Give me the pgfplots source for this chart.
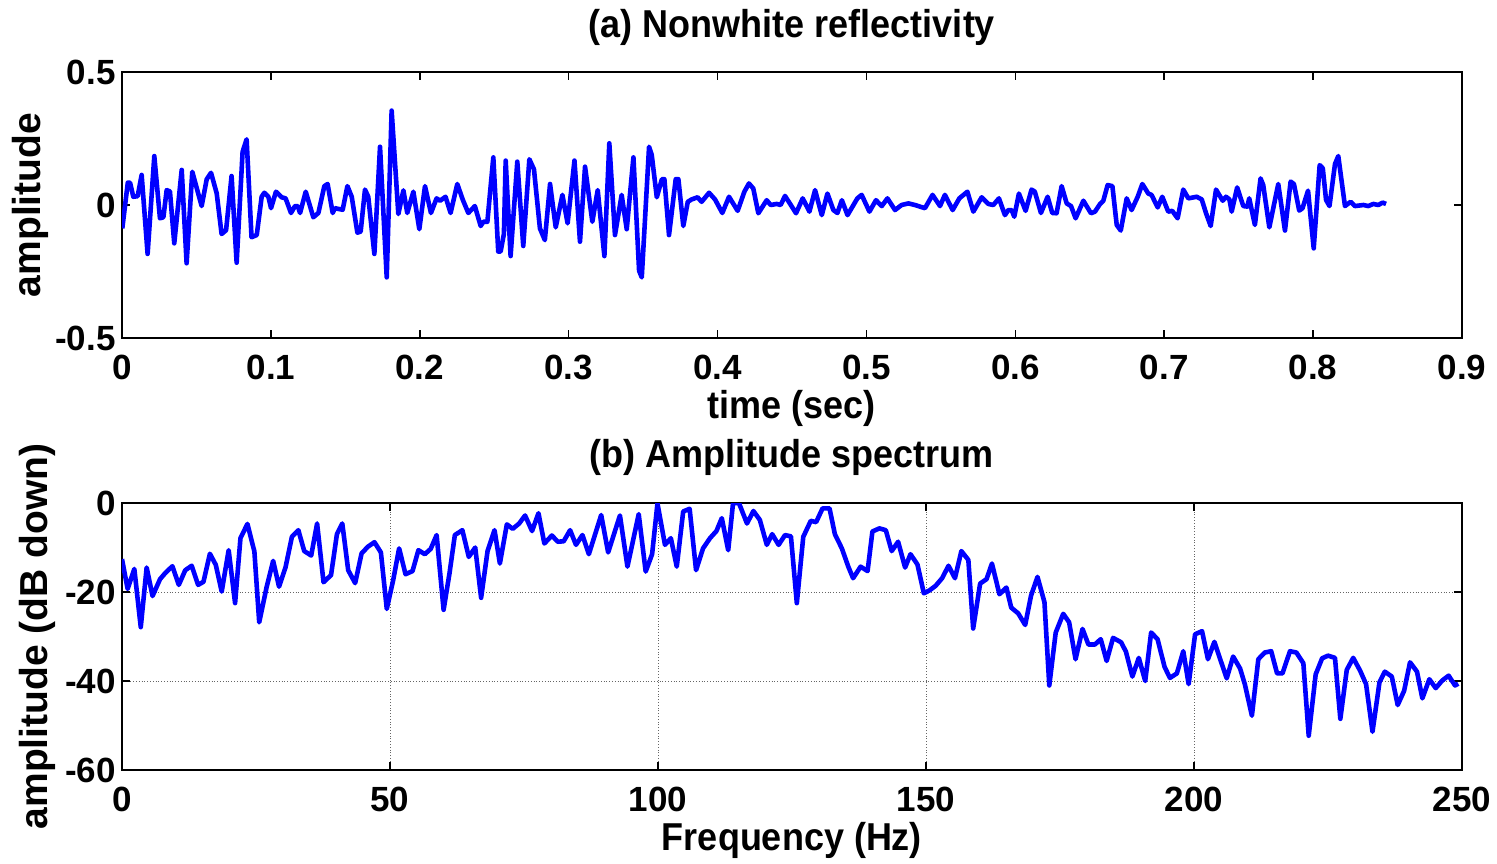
\documentclass[border=0pt]{standalone}
\usepackage{fontspec}
\setmainfont{Liberation Sans}
\usepackage{pgfplots}
\pgfplotsset{compat=1.18}
\newcommand{\lbl}{\bfseries\fontsize{18}{18}\selectfont}
\newcommand{\ylbl}{\bfseries\fontsize{19.5}{19.5}\selectfont}
\newcommand{\tkl}{\bfseries\fontsize{17.5}{17.5}\selectfont}
\pgfplotsset{
  mstyle/.style={
    scale only axis, width=670pt,
    axis line style={line width=1pt},
    tick style={black, line width=0.8pt},
    tick align=inside, major tick length=4pt,
    xticklabel style={font=\tkl, anchor=center, yshift=-14.5pt},
    yticklabel style={font=\tkl, anchor=east, inner sep=0pt, xshift=-3pt},
    every axis x label/.style={at={(axis description cs:0.5,-0.263)},anchor=center,font=\lbl},
    every axis title/.style={at={(axis description cs:0.5,1.169)},anchor=center,font=\lbl},
  }
}
\begin{document}
\begin{tikzpicture}
\useasboundingbox (-61pt,-46.5pt) rectangle (687.5pt,385pt);
% top axis
\begin{axis}[mstyle, at={(0pt,216pt)}, anchor=south west, height=133pt,
  xmin=0, xmax=0.9, ymin=-0.5, ymax=0.5,
  xtick={0,0.1,0.2,0.3,0.4,0.5,0.6,0.7,0.8,0.9},
  xticklabels={0,0.1,0.2,0.3,0.4,0.5,0.6,0.7,0.8,0.9},
  ytick={-0.5,0,0.5}, yticklabels={-0.5,0,0.5},
  title={\scalebox{1}[1.08]{(a) Nonwhite reflectivity}}, xlabel={\scalebox{1}[1.08]{time (sec)}}, ylabel={amplitude},
  every axis y label/.style={at={(axis description cs:-0.0687,0.5)},anchor=center,rotate=90,font=\ylbl},
]
\addplot[color={rgb,255:red,0;green,0;blue,255}, line width=2.3pt, line join=round] coordinates {
(0.0002,-0.088) (0.0039,0.084) (0.0054,0.084) (0.0076,0.031) (0.0105,0.033) (0.0132,0.113)
(0.0172,-0.184) (0.0217,0.184) (0.0255,-0.050) (0.0278,-0.046) (0.0300,0.056) (0.0322,0.051)
(0.0351,-0.144) (0.0401,0.132) (0.0434,-0.219) (0.0472,0.125) (0.0535,-0.004) (0.0569,0.097)
(0.0598,0.121) (0.0636,0.044) (0.0669,-0.109) (0.0699,-0.095) (0.0736,0.109) (0.0770,-0.217)
(0.0810,0.200) (0.0837,0.247) (0.0870,-0.121) (0.0905,-0.113) (0.0938,0.031) (0.0956,0.046)
(0.0983,0.031) (0.1001,-0.012) (0.1034,0.050) (0.1072,0.029) (0.1099,0.025) (0.1135,-0.030)
(0.1162,-0.004) (0.1180,-0.004) (0.1196,-0.030) (0.1234,0.050) (0.1285,-0.046) (0.1319,-0.030)
(0.1359,0.071) (0.1381,0.079) (0.1415,-0.030) (0.1431,-0.012) (0.1482,-0.018) (0.1514,0.071)
(0.1543,0.031) (0.1581,-0.104) (0.1603,-0.100) (0.1632,0.058) (0.1654,0.031) (0.1695,-0.184)
(0.1733,0.219) (0.1778,-0.272) (0.1811,0.355) (0.1856,-0.034) (0.1890,0.055) (0.1916,-0.030)
(0.1957,0.050) (0.1997,-0.091) (0.2035,0.071) (0.2075,-0.030) (0.2113,0.025) (0.2136,0.016)
(0.2173,0.031) (0.2207,-0.030) (0.2252,0.079) (0.2288,0.021) (0.2326,-0.030) (0.2370,-0.004)
(0.2409,-0.079) (0.2427,-0.063) (0.2454,-0.063) (0.2494,0.179) (0.2527,-0.175) (0.2543,-0.175)
(0.2565,-0.109) (0.2577,0.167) (0.2610,-0.192) (0.2655,0.163) (0.2695,-0.154) (0.2736,0.172)
(0.2767,0.134) (0.2807,-0.088) (0.2840,-0.132) (0.2875,0.079) (0.2913,-0.084) (0.2958,0.038)
(0.2993,-0.069) (0.3039,0.167) (0.3076,-0.138) (0.3110,0.144) (0.3159,-0.063) (0.3195,0.056)
(0.3240,-0.192) (0.3273,0.232) (0.3311,-0.113) (0.3356,0.038) (0.3390,-0.091) (0.3435,0.179)
(0.3473,-0.247) (0.3491,-0.272) (0.3540,0.219) (0.3558,0.188) (0.3592,0.029) (0.3626,0.097)
(0.3643,0.097) (0.3674,-0.113) (0.3719,0.097) (0.3737,0.097) (0.3770,-0.079) (0.3800,0.012)
(0.3826,0.021) (0.3866,0.029) (0.3893,0.012) (0.3943,0.046) (0.3983,0.021) (0.4032,-0.030)
(0.4077,0.031) (0.4135,-0.022) (0.4180,0.050) (0.4211,0.081) (0.4240,0.062) (0.4274,-0.031)
(0.4330,0.018) (0.4357,0.000) (0.4397,0.004) (0.4424,0.000) (0.4453,0.034) (0.4482,0.009)
(0.4527,-0.031) (0.4572,0.025) (0.4617,-0.025) (0.4655,0.056) (0.4700,-0.038) (0.4738,0.043)
(0.4778,-0.019) (0.4805,-0.030) (0.4835,0.018) (0.4873,-0.038) (0.4939,0.025) (0.4968,0.038)
(0.5020,-0.025) (0.5064,0.018) (0.5103,-0.004) (0.5141,0.025) (0.5192,-0.019) (0.5236,0.000)
(0.5282,0.006) (0.5326,0.000) (0.5393,-0.012) (0.5444,0.038) (0.5494,-0.004) (0.5527,0.038)
(0.5579,-0.019) (0.5624,0.025) (0.5678,0.050) (0.5718,-0.025) (0.5774,0.029) (0.5819,0.004)
(0.5852,0.000) (0.5890,0.025) (0.5930,-0.038) (0.5953,-0.019) (0.5975,-0.019) (0.5993,-0.044)
(0.6024,0.043) (0.6069,-0.022) (0.6109,0.058) (0.6131,0.050) (0.6172,-0.030) (0.6217,0.031)
(0.6248,-0.030) (0.6277,-0.031) (0.6311,0.071) (0.6345,0.006) (0.6374,-0.004) (0.6405,-0.050)
(0.6457,0.016) (0.6508,-0.031) (0.6535,-0.025) (0.6569,0.004) (0.6591,0.016) (0.6620,0.075)
(0.6652,0.071) (0.6681,-0.075) (0.6708,-0.096) (0.6748,0.025) (0.6781,-0.019) (0.6822,0.031)
(0.6853,0.079) (0.6893,0.043) (0.6915,0.038) (0.6956,-0.009) (0.6987,0.031) (0.7027,-0.025)
(0.7054,-0.022) (0.7090,-0.050) (0.7128,0.058) (0.7162,0.025) (0.7218,0.031) (0.7252,0.021)
(0.7281,-0.031) (0.7312,-0.079) (0.7348,0.058) (0.7393,0.016) (0.7415,0.031) (0.7438,0.021)
(0.7453,-0.025) (0.7490,0.066) (0.7531,-0.004) (0.7558,-0.006) (0.7571,0.025) (0.7609,-0.075)
(0.7647,0.100) (0.7665,0.075) (0.7706,-0.084) (0.7766,0.079) (0.7811,-0.096) (0.7849,0.088)
(0.7871,0.079) (0.7907,-0.021) (0.7929,-0.012) (0.7966,0.054) (0.8004,-0.163) (0.8044,0.150)
(0.8065,0.138) (0.8087,0.019) (0.8110,-0.004) (0.8147,0.154) (0.8169,0.184) (0.8214,-0.004)
(0.8252,0.012) (0.8281,-0.004) (0.8338,0.000) (0.8371,-0.004) (0.8404,0.004) (0.8438,0.000)
(0.8467,0.009) (0.8490,0.004)
};
\end{axis}
% bottom axis
\begin{axis}[mstyle, at={(0pt,0pt)}, anchor=south west, height=133.5pt,
  xmin=0, xmax=250, ymin=-60, ymax=0,
  xtick={0,50,100,150,200,250}, xticklabels={0,50,100,150,200,250},
  ytick={-60,-40,-20,0}, yticklabels={-60,-40,-20,0},
  grid=major, major grid style={densely dotted, black!60, line width=0.5pt},
  title={\scalebox{1}[1.08]{(b) Amplitude spectrum}}, xlabel={\scalebox{1}[1.08]{Frequency (Hz)}}, ylabel={amplitude (dB down)},
  every axis y label/.style={at={(axis description cs:-0.0634,0.5)},anchor=center,rotate=90,font=\ylbl},
]
\addplot[color={rgb,255:red,0;green,0;blue,255}, line width=2.3pt, line join=round] coordinates {
(0,-12.6) (1.05,-19.3) (2.3,-14.8) (3.5,-27.9) (4.6,-14.5) (5.7,-20.9) (7.1,-17.1) (8.1,-15.7)
(9.4,-14.2) (10.6,-18.4) (11.8,-15.1) (13.0,-14.1) (14.2,-18.4) (15.2,-17.7) (16.4,-11.4)
(17.5,-13.9) (18.6,-19.9) (19.9,-10.6) (21.1,-22.5) (22.1,-7.9) (23.4,-4.7) (24.7,-10.9)
(25.6,-26.8) (27.0,-18.8) (28.2,-13.0) (29.3,-18.8) (30.5,-14.5) (31.7,-7.6) (32.9,-6.1)
(34.0,-10.8) (35.3,-11.8) (36.4,-4.6) (37.6,-17.8) (39.0,-16.2) (40.1,-7.0) (41.1,-4.6)
(42.2,-15.1) (43.5,-18.0) (44.7,-11.3) (45.9,-9.8) (47.1,-8.8) (48.3,-11.1) (49.4,-23.8)
(50.6,-17.3) (51.7,-10.2) (52.9,-16.0) (54.2,-15.3) (55.3,-10.6) (56.5,-11.5) (57.6,-10.3)
(58.7,-7.2) (60.0,-24.0) (61.1,-15.8) (62.1,-7.2) (63.5,-6.1) (64.7,-12.1) (65.9,-10.0)
(67.0,-21.3) (68.2,-10.8) (69.5,-6.1) (70.5,-13.6) (71.8,-4.8) (72.9,-5.8) (74.1,-4.6)
(75.2,-2.8) (76.5,-6.3) (77.7,-2.3) (78.8,-9.1) (80.2,-7.3) (81.3,-8.7) (82.4,-8.6)
(83.6,-6.1) (84.7,-9.4) (85.9,-7.2) (87.1,-11.5) (89.4,-2.7) (90.7,-11.1) (92.9,-2.8)
(94.3,-14.3) (96.4,-2.5) (97.7,-15.4) (98.9,-11.5) (99.9,-0.1) (101.3,-9.4) (102.4,-7.9)
(103.5,-14.3) (104.7,-1.9) (105.9,-1.3) (107.1,-15.1) (108.4,-10.2) (109.7,-7.9) (110.9,-6.3)
(111.9,-3.4) (113.1,-10.6) (114.0,0) (115.1,0) (116.6,-4.6) (117.8,-1.8) (119.0,-3.8)
(120.3,-9.4) (121.3,-7.0) (122.5,-9.4) (123.7,-7.2) (124.8,-7.5) (125.9,-22.5) (127.1,-7.6)
(128.5,-4.0) (129.5,-4.3) (130.7,-1.2) (132.0,-1.2) (133.0,-7.0) (134.3,-10.2) (135.5,-14.3)
(136.4,-16.9) (137.8,-14.3) (139.1,-15.3) (140.0,-6.4) (141.3,-5.7) (142.5,-6.1) (143.6,-10.8)
(144.8,-8.7) (146.1,-14.5) (147.1,-11.5) (148.4,-13.8) (149.6,-20.3) (150.7,-19.6) (151.8,-18.6)
(153.0,-16.9) (154.2,-14.1) (155.4,-16.9) (156.6,-10.8) (157.9,-12.8) (158.8,-28.2) (160.1,-18.1)
(161.3,-17.1) (162.3,-13.6) (163.7,-20.5) (165.0,-19.0) (165.9,-23.5) (167.2,-24.8) (168.5,-27.4)
(169.6,-20.8) (170.8,-16.6) (172.1,-22.3) (173.0,-41.0) (174.2,-29.1) (175.6,-24.9) (176.7,-26.8)
(177.9,-35.1) (179.2,-28.3) (180.3,-31.8) (181.5,-31.8) (182.6,-30.6) (183.7,-35.5) (184.9,-30.3)
(186.4,-31.3) (187.3,-33.4) (188.5,-39.0) (189.7,-34.8) (190.9,-40.0) (192.0,-29.1) (193.2,-30.6)
(194.5,-36.8) (195.5,-39.3) (196.8,-38.3) (198.0,-33.3) (199.0,-40.7) (200.2,-29.5) (201.5,-28.8)
(202.6,-35.1) (203.8,-31.2) (205.0,-35.5) (206.1,-39.4) (207.3,-34.5) (208.6,-37.2) (209.5,-40.8)
(210.8,-47.8) (212.0,-35.1) (213.2,-33.6) (214.4,-33.3) (215.5,-38.3) (216.5,-38.3) (217.9,-33.3)
(219.1,-33.6) (220.4,-36.0) (221.4,-52.3) (222.7,-38.5) (223.9,-34.9) (225.0,-34.3) (226.3,-34.8)
(227.3,-48.5) (228.5,-37.5) (229.7,-34.8) (231.0,-37.7) (232.1,-40.7) (233.3,-51.4) (234.6,-40.3)
(235.6,-37.9) (236.9,-39.0) (238.0,-45.4) (239.2,-42.2) (240.3,-35.8) (241.6,-37.9) (242.6,-43.9)
(243.9,-39.6) (245.1,-41.6) (246.3,-39.9) (247.5,-38.8) (248.7,-41.0) (249.3,-40.6)
};
\end{axis}
\end{tikzpicture}
\end{document}
